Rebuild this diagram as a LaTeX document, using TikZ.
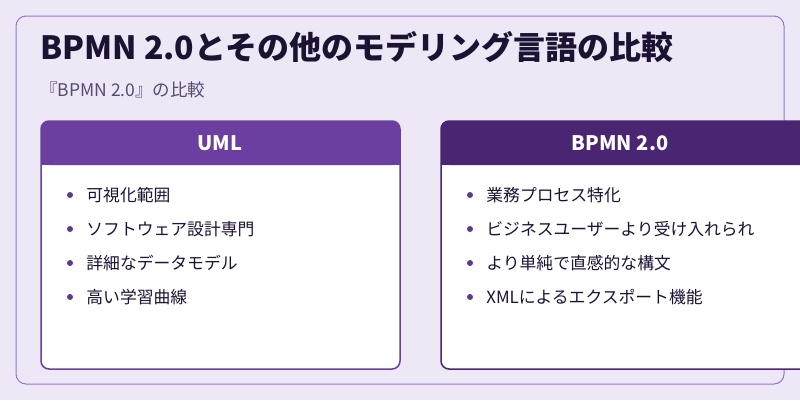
\documentclass[tikz,border=0pt]{standalone}
\usepackage{fontspec}
\setmainfont{Noto Sans CJK JP}
\usetikzlibrary{positioning}
\definecolor{bgc}{HTML}{EDE7F6}
\definecolor{framec}{HTML}{9575CD}
\definecolor{titlec}{HTML}{1E1233}
\definecolor{subc}{HTML}{5A4A72}
\definecolor{umlc}{HTML}{6A3FA0}
\definecolor{bpmnc}{HTML}{4A2572}
\definecolor{dotc}{HTML}{5E3A8C}
\begin{document}
\begin{tikzpicture}[x=1pt,y=-1pt]
\tikzset{
	card/.style={draw=#1,line width=1.5pt,fill=white,rounded corners=8pt},
	head text/.style={font=\bfseries\fontsize{20}{24}\selectfont,text=white},
	item/.style={anchor=west,font=\fontsize{16.8}{20}\selectfont,text=titlec,inner sep=0pt},
	dot/.style={circle,fill=dotc,inner sep=0pt,minimum size=6pt}
}
\fill[bgc] (0,0) rectangle (800,400);
\useasboundingbox (0,0) rectangle (800,400);
\clip (0,0) rectangle (800,400);
\draw[framec,line width=1pt,rounded corners=10pt] (16,16) rectangle (784,384);
\node[anchor=west,inner sep=0pt,font=\bfseries\fontsize{32}{36}\selectfont,text=titlec] (title) at (40,47) {BPMN 2.0とその他のモデリング言語の比較};
\node[anchor=west,inner sep=0pt,font=\fontsize{17.5}{20}\selectfont,text=subc] (sub) at (40,90) {『BPMN 2.0』の比較};
% left card
\draw[card=umlc] (41,121) rectangle (400,369);
\fill[umlc,rounded corners=8pt] (41,121) rectangle (400,165);
\fill[umlc] (41,150) rectangle (400,165);
\node[head text] (umlh) at (220,143) {UML};
% right card
\draw[card=bpmnc] (441,121) rectangle (820,369);
\fill[bpmnc,rounded corners=8pt] (441,121) rectangle (820,165);
\fill[bpmnc] (441,150) rectangle (820,165);
\node[head text] (bpmnh) at (620,143) {BPMN 2.0};
\foreach \t [count=\i] in {可視化範囲,ソフトウェア設計専門,詳細なデータモデル,高い学習曲線}{
	\node[dot] (ld\i) at (70,{161+34*\i}) {};
	\node[item,right=13pt of ld\i] (lt\i) {\t};
}
\foreach \t [count=\i] in {業務プロセス特化,ビジネスユーザーより受け入れられ,より単純で直感的な構文,XMLによるエクスポート機能}{
	\node[dot] (rd\i) at (470,{161+34*\i}) {};
	\node[item,right=13pt of rd\i] (rt\i) {\t};
}
\end{tikzpicture}
\end{document}
